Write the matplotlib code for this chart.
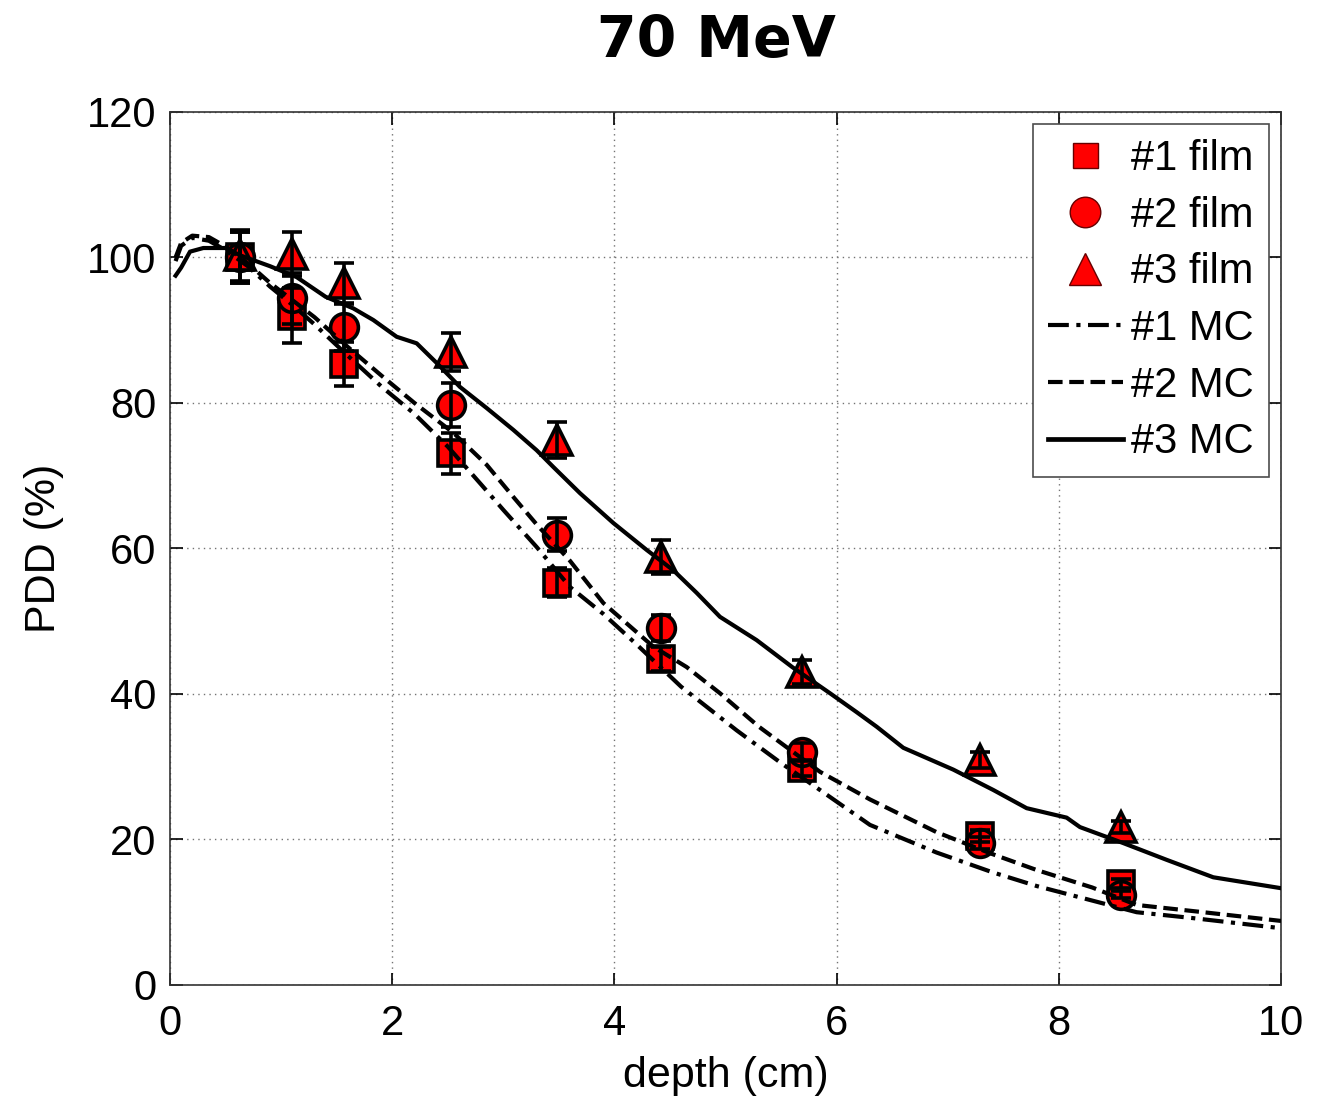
import matplotlib
matplotlib.use("Agg")
import matplotlib.pyplot as plt
from matplotlib.lines import Line2D

plt.rcParams['font.family'] = ['Liberation Sans', 'DejaVu Sans']

# measured film points
depth_film = [0.63, 1.1, 1.57, 2.53, 3.48, 4.42, 5.69, 7.29, 8.56]
film1 = [100.0, 92.0, 85.4, 73.1, 55.3, 44.8, 29.8, 20.5, 13.9]
film1_err = [3.5, 3.8, 3.0, 2.8, 2.0, 1.6, 1.1, 0.8, 0.6]
film2 = [100.0, 94.4, 90.4, 79.7, 61.9, 49.1, 32.0, 19.5, 12.4]
film2_err = [3.5, 3.5, 3.2, 3.0, 2.3, 1.8, 1.2, 0.8, 0.5]
film3 = [100.3, 100.5, 96.5, 87.0, 74.9, 58.8, 43.0, 30.9, 21.7]
film3_err = [3.5, 3.0, 2.7, 2.6, 2.5, 2.3, 1.6, 1.1, 0.8]

# Monte Carlo curves
mc1_x = [0.05, 0.1, 0.2, 0.35, 0.5, 0.7, 0.9, 1.1, 1.3, 1.6, 1.9, 2.2, 2.5, 2.8,
         3.0, 3.3, 3.6, 3.9, 4.2, 4.6, 5.1, 5.5, 5.85, 6.3, 6.9, 7.4, 7.8, 8.3,
         8.7, 9.2, 10.0]
mc1_y = [99.5, 101.6, 102.7, 102.3, 101.0, 98.8, 96.0, 93.5, 90.8, 86.5, 82.3,
         78.5, 74.0, 68.8, 65.3, 60.2, 54.7, 51.0, 46.8, 41.0, 35.0, 30.5, 26.8,
         22.0, 18.2, 15.5, 13.6, 11.6, 10.0, 9.2, 7.8]
mc2_x = [0.05, 0.1, 0.2, 0.35, 0.5, 0.7, 0.9, 1.3, 1.6, 1.9, 2.2, 2.55, 2.85,
         3.1, 3.3, 3.6, 3.9, 4.35, 4.65, 4.95, 5.3, 5.85, 6.3, 6.9, 7.4, 7.8,
         8.3, 8.7, 9.3, 10.0]
mc2_y = [100.0, 102.0, 103.0, 102.8, 101.5, 99.2, 96.5, 91.8, 87.7, 83.8, 80.0,
         75.9, 71.5, 66.9, 63.3, 58.3, 52.5, 46.5, 43.7, 40.1, 35.5, 29.3, 25.5,
         21.0, 18.0, 15.8, 13.4, 11.0, 10.0, 8.8]
mc3_x = [0.05, 0.1, 0.18, 0.3, 0.5, 0.63, 0.9, 1.14, 1.4, 1.65, 1.83, 2.04, 2.22,
         2.4, 2.61, 2.85, 3.09, 3.3, 3.45, 3.69, 3.99, 4.29, 4.53, 4.74, 4.95,
         5.28, 5.6, 5.94, 6.18, 6.36, 6.6, 7.05, 7.41, 7.71, 8.07, 8.19, 8.58,
         8.97, 9.39, 10.0]
mc3_y = [97.5, 98.6, 100.8, 101.3, 101.3, 100.3, 98.8, 97.3, 94.6, 93.0, 91.4,
         89.1, 88.2, 85.5, 82.2, 79.3, 76.3, 73.5, 71.2, 67.6, 63.5, 59.8, 57.0,
         53.9, 50.6, 47.4, 43.7, 40.1, 37.5, 35.5, 32.6, 29.6, 26.8, 24.3, 23.0,
         21.7, 19.5, 17.2, 14.8, 13.3]

x_ticks = [0, 2, 4, 6, 8, 10]
y_ticks = [0, 20, 40, 60, 80, 100, 120]

DASHDOT = (0, (5, 1.8, 1, 1.8))
DASHED = (0, (3.5, 1.6))


def main():
    fig = plt.figure(figsize=(13.2, 11.01), dpi=100)
    ax = fig.add_axes([0.1288, 0.1054, 0.8417, 0.7929])

    films = [(film1, film1_err, 's', 19), (film2, film2_err, 'o', 20),
             (film3, film3_err, '^', 21)]
    for vals, err, mk, ms in films:
        ax.plot(depth_film, vals, linestyle='none', marker=mk, markersize=ms,
                markerfacecolor='red', markeredgecolor='black',
                markeredgewidth=2.6, zorder=3)
        ax.errorbar(depth_film, vals, yerr=err, fmt='none', ecolor='black',
                    elinewidth=2.6, capsize=7, capthick=2.6, zorder=4)

    ax.plot(mc1_x, mc1_y, color='black', lw=3, zorder=5, linestyle=DASHDOT)
    ax.plot(mc2_x, mc2_y, color='black', lw=3, zorder=5, linestyle=DASHED)
    ax.plot(mc3_x, mc3_y, color='black', lw=3, zorder=5, linestyle='-')

    ax.set_xlim(0, 10)
    ax.set_ylim(0, 120)
    ax.set_xticks(x_ticks)
    ax.set_yticks(y_ticks)
    ax.grid(True, color='0.45', linestyle=(0, (1, 3)), linewidth=1.0)
    ax.set_axisbelow(True)
    ax.tick_params(direction='in', length=9, width=1.2, top=True, right=True,
                   labelsize=30)
    ax.tick_params(axis='x', pad=14)
    ax.tick_params(axis='y', pad=10)
    for sp in ax.spines.values():
        sp.set_linewidth(1.2)
        sp.set_color('0.2')

    ax.set_xlabel('depth (cm)', fontsize=31, labelpad=8)
    ax.set_ylabel('PDD (%)', fontsize=31, labelpad=16)
    fig.text(0.543, 0.962, '70 MeV', fontsize=41, fontweight='bold',
             family='DejaVu Sans', ha='center', va='center')

    handles = [
        Line2D([], [], linestyle='none', marker='s', markersize=18,
               markerfacecolor='red', markeredgecolor='#600', markeredgewidth=1),
        Line2D([], [], linestyle='none', marker='o', markersize=22,
               markerfacecolor='red', markeredgecolor='#600', markeredgewidth=1),
        Line2D([], [], linestyle='none', marker='^', markersize=23,
               markerfacecolor='red', markeredgecolor='#600', markeredgewidth=1),
        Line2D([], [], color='black', lw=3, linestyle=DASHDOT),
        Line2D([], [], color='black', lw=3, linestyle=DASHED),
        Line2D([], [], color='black', lw=3.4, linestyle='-'),
    ]
    labels = ['#1 film', '#2 film', '#3 film', '#1 MC', '#2 MC', '#3 MC']
    leg = ax.legend(handles, labels, loc='upper right', fontsize=30,
                    fancybox=False, framealpha=1, edgecolor='0.3',
                    handlelength=1.8, handletextpad=0.2, labelspacing=0.4,
                    borderpad=0.35, borderaxespad=0.3)
    leg.get_frame().set_linewidth(1.2)

    fig.savefig('out.png', dpi=100)


if __name__ == '__main__':
    main()
